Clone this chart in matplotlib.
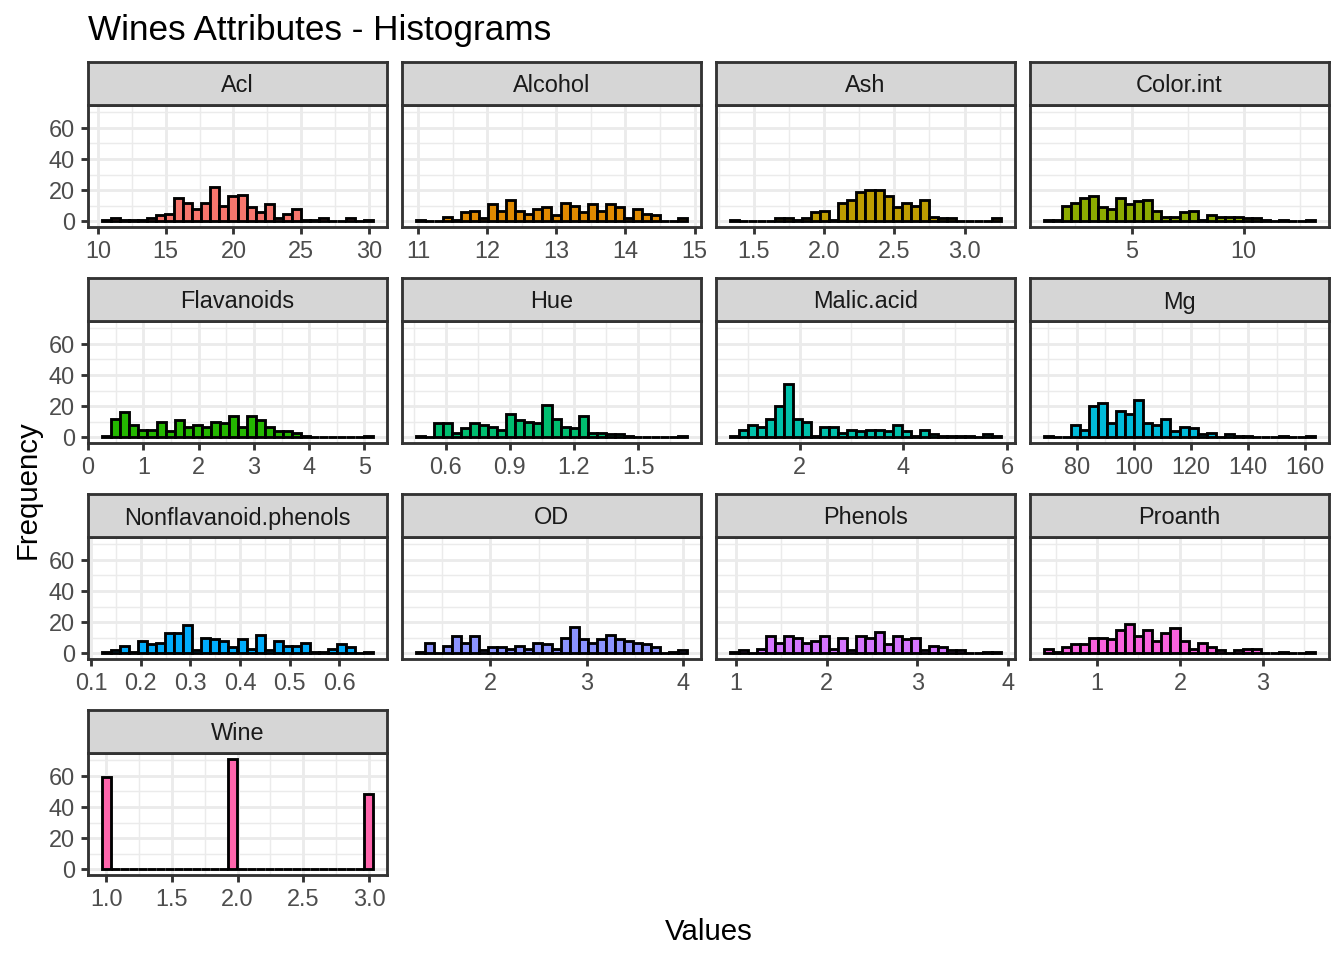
import matplotlib

matplotlib.use("Agg")
import matplotlib.pyplot as plt
import numpy as np

plt.rcParams["font.family"] = ["Liberation Sans", "DejaVu Sans"]

# facet order as in the reference
attributes = ["Acl", "Alcohol", "Ash", "Color.int", "Flavanoids", "Hue", "Malic.acid",
              "Mg", "Nonflavanoid.phenols", "OD", "Phenols", "Proanth", "Wine"]

# ggplot hue palette, 13 levels
colors = ["#F8766D", "#E18A00", "#BE9C00", "#8CAB00", "#24B700", "#00BE70", "#00C1AB",
          "#00BBDA", "#00ACFC", "#8B93FF", "#D575FE", "#F962DD", "#FF65AC"]

# data range (min, max) of each attribute, 30 bins between them
value_min = [10.6, 11.03, 1.36, 1.28, 0.34, 0.48, 0.74, 70, 0.13, 1.27, 0.98, 0.41, 1.0]
value_max = [30.0, 14.83, 3.23, 13.0, 5.08, 1.71, 5.80, 162, 0.66, 4.00, 3.88, 3.58, 3.0]

# bin counts
acl_counts = [1, 2, 1, 1, 1, 2, 4, 5, 15, 12, 8, 12, 22, 10, 16, 17, 9, 6, 11, 2,
              5, 8, 1, 1, 2, 0, 0, 2, 0, 1]
alcohol_counts = [1, 0, 0, 3, 1, 6, 7, 2, 11, 7, 14, 7, 5, 8, 9, 4, 12, 10, 6, 11,
                  7, 11, 9, 2, 8, 5, 4, 0, 0, 2]
ash_counts = [1, 0, 0, 0, 0, 2, 2, 1, 2, 6, 7, 1, 12, 14, 19, 20, 20, 16, 9, 12,
              10, 14, 3, 2, 2, 0, 0, 0, 0, 2]
color_int_counts = [1, 1, 10, 12, 15, 16, 9, 8, 15, 11, 13, 14, 7, 3, 3, 6, 7, 1, 4, 3,
                    3, 3, 2, 2, 1, 0, 1, 0, 0, 1]
flavanoids_counts = [1, 12, 16, 8, 5, 5, 10, 4, 11, 7, 8, 7, 10, 9, 14, 7, 14, 11, 7, 4,
                     4, 3, 1, 0, 0, 0, 0, 0, 0, 1]
hue_counts = [1, 0, 9, 9, 3, 6, 9, 8, 7, 5, 15, 11, 10, 9, 21, 12, 7, 6, 14, 3,
              3, 2, 2, 1, 0, 0, 0, 0, 0, 1]
malic_acid_counts = [1, 5, 8, 7, 12, 20, 34, 12, 10, 1, 7, 7, 3, 5, 4, 5, 5, 4, 8, 4,
                     1, 5, 2, 1, 1, 1, 1, 0, 2, 1]
mg_counts = [1, 0, 0, 8, 5, 20, 22, 9, 17, 15, 24, 9, 8, 12, 4, 7, 6, 2, 3, 0,
             2, 1, 1, 0, 0, 0, 1, 0, 0, 1]
nonflavanoid_counts = [1, 2, 5, 1, 8, 6, 7, 13, 13, 18, 2, 10, 9, 8, 4, 9, 3, 12, 2, 8,
                       5, 5, 7, 1, 1, 3, 6, 4, 0, 1]
od_counts = [1, 7, 0, 5, 11, 7, 11, 2, 4, 4, 3, 5, 3, 7, 6, 3, 10, 17, 9, 7,
             9, 12, 9, 8, 7, 6, 4, 0, 1, 2]
phenols_counts = [1, 2, 0, 3, 11, 7, 11, 10, 7, 8, 11, 3, 10, 2, 11, 10, 14, 6, 11, 9,
                  10, 2, 5, 4, 2, 2, 0, 0, 1, 1]
proanth_counts = [3, 1, 4, 6, 6, 10, 10, 9, 15, 19, 11, 15, 8, 13, 16, 8, 3, 7, 4, 2,
                  0, 2, 3, 3, 0, 0, 1, 0, 0, 1]
wine_counts = [59] + [0] * 13 + [71] + [0] * 14 + [48]

all_counts = [acl_counts, alcohol_counts, ash_counts, color_int_counts, flavanoids_counts,
              hue_counts, malic_acid_counts, mg_counts, nonflavanoid_counts, od_counts,
              phenols_counts, proanth_counts, wine_counts]

x_ticks = [[10, 15, 20, 25, 30], [11, 12, 13, 14, 15], [1.5, 2.0, 2.5, 3.0], [5, 10],
           [0, 1, 2, 3, 4, 5], [0.6, 0.9, 1.2, 1.5], [2, 4, 6], [80, 100, 120, 140, 160],
           [0.1, 0.2, 0.3, 0.4, 0.5, 0.6], [2, 3, 4], [1, 2, 3, 4], [1, 2, 3],
           [1.0, 1.5, 2.0, 2.5, 3.0]]
x_labels = [["10", "15", "20", "25", "30"], ["11", "12", "13", "14", "15"],
            ["1.5", "2.0", "2.5", "3.0"], ["5", "10"], ["0", "1", "2", "3", "4", "5"],
            ["0.6", "0.9", "1.2", "1.5"], ["2", "4", "6"], ["80", "100", "120", "140", "160"],
            ["0.1", "0.2", "0.3", "0.4", "0.5", "0.6"], ["2", "3", "4"], ["1", "2", "3", "4"],
            ["1", "2", "3"], ["1.0", "1.5", "2.0", "2.5", "3.0"]]

y_ticks = [0, 20, 40, 60]
y_minor = [10, 30, 50, 70]

W, H = 1344, 960
fig = plt.figure(figsize=(7, 5), dpi=192)

col_left = [88, 402, 716, 1030]
panel_top = [105, 321, 537, 753]
pw, ph, sh = 299, 122, 43
lw = 1.07
grid_col = "#EBEBEB"
dark = "#333333"

ymax = max(max(c) for c in all_counts)
ylim = (-0.05 * ymax, ymax * 1.05)

for i, name in enumerate(attributes):
    r, c = divmod(i, 4)
    x0, y0 = col_left[c], panel_top[r]
    ax = fig.add_axes([x0 / W, 1 - (y0 + ph) / H, pw / W, ph / H])
    st = fig.add_axes([x0 / W, 1 - y0 / H, pw / W, sh / H])

    counts = np.array(all_counts[i])
    nb = len(counts)
    width = (value_max[i] - value_min[i]) / (nb - 1)
    centers = value_min[i] + width * np.arange(nb)
    ax.bar(centers, counts, width=width, color=colors[i], edgecolor="black",
           linewidth=lw, zorder=3)

    lo, hi = value_min[i] - width / 2, value_max[i] + width / 2
    pad = 0.05 * (hi - lo)
    lo, hi = lo - pad, hi + pad
    if x_ticks[i][0] < lo and lo - x_ticks[i][0] < 0.01 * (hi - lo):
        lo = x_ticks[i][0] - 1e-6
    ax.set_xlim(lo, hi)
    ax.set_ylim(*ylim)

    t = x_ticks[i]
    step = t[1] - t[0]
    minors = [m for m in np.arange(t[0] - step / 2, t[-1] + step, step) if lo <= m <= hi]
    ax.set_xticks(t)
    ax.set_xticklabels(x_labels[i])
    ax.set_xticks(minors, minor=True)
    ax.set_yticks(y_ticks)
    ax.set_yticks(y_minor, minor=True)

    ax.grid(which="major", color=grid_col, linewidth=lw)
    ax.grid(which="minor", color=grid_col, linewidth=lw / 2)
    ax.set_axisbelow(True)
    ax.tick_params(which="major", direction="out", length=2.75, width=lw, color=dark,
                   labelcolor="#4D4D4D", labelsize=8.8, pad=2.2)
    ax.tick_params(which="minor", length=0)
    if c != 0:
        ax.tick_params(axis="y", left=False, labelleft=False)
    for s in ax.spines.values():
        s.set_color(dark)
        s.set_linewidth(lw)
        s.set_zorder(5)

    st.set_facecolor("#D6D6D6")
    st.set_xticks([])
    st.set_yticks([])
    for s in st.spines.values():
        s.set_color(dark)
        s.set_linewidth(lw)
    st.text(0.5, 0.5, name, ha="center", va="center_baseline", fontsize=8.8,
            color="#1A1A1A", transform=st.transAxes)

fig.text(88 / W, 1 - 40 / H, "Wines Attributes - Histograms", fontsize=13.2,
         ha="left", va="baseline")
fig.text(708.5 / W, 1 - 940 / H, "Values", fontsize=11, ha="center", va="baseline")
fig.text(28 / W, 1 - 490 / H, "Frequency", fontsize=11, ha="center", va="center",
         rotation=90)

fig.savefig("out.png", dpi=192)
